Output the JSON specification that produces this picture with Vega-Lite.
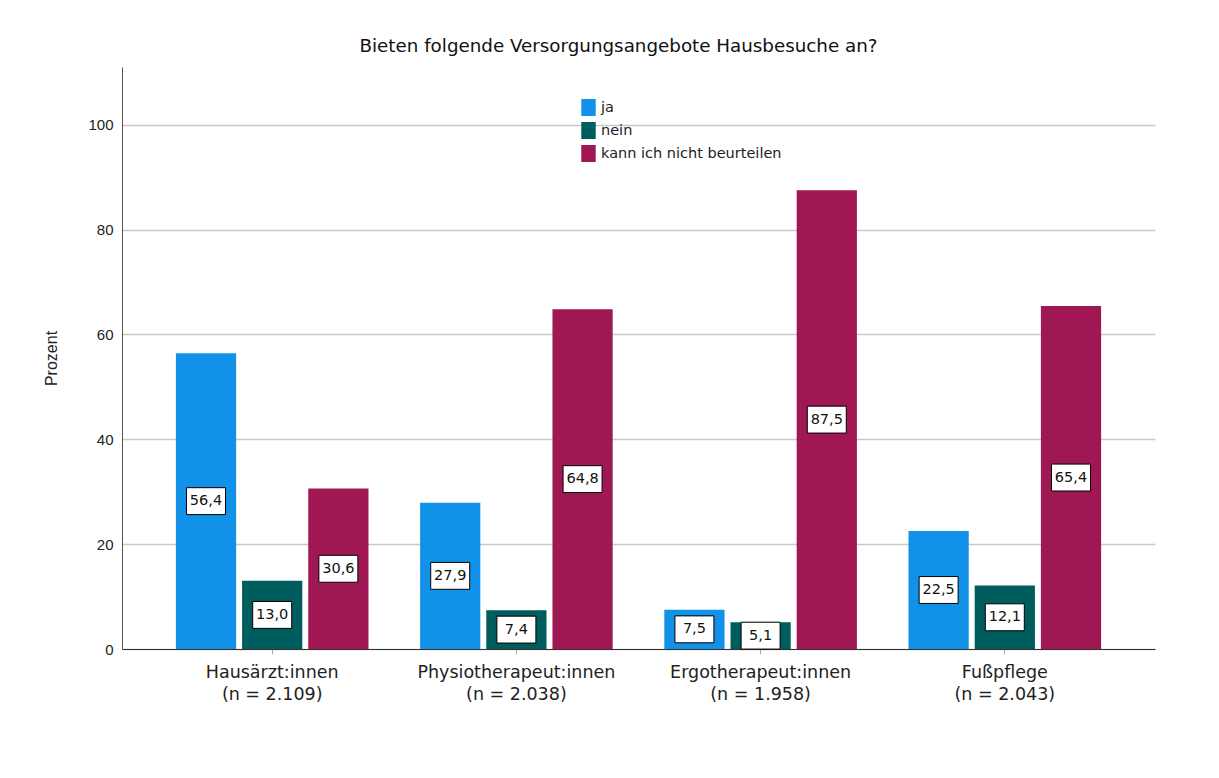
{
  "$schema": "https://vega.github.io/schema/vega-lite/v6.json",
  "width": 1033,
  "height": 582,
  "autosize": "none",
  "padding": {"left": 122, "top": 67, "right": 64, "bottom": 129},
  "background": "white",
  "title": {
    "text": "Bieten folgende Versorgungsangebote Hausbesuche an?",
    "font": "DejaVu Sans",
    "fontSize": 18.3,
    "fontWeight": "normal",
    "color": "#111111",
    "anchor": "middle",
    "dx": -20,
    "offset": 11
  },
  "data": {
    "values": [
      {"gruppe": "Hausärzt:innen|(n = 2.109)", "antwort": "ja", "value": 56.4},
      {"gruppe": "Hausärzt:innen|(n = 2.109)", "antwort": "nein", "value": 13.0},
      {"gruppe": "Hausärzt:innen|(n = 2.109)", "antwort": "kann ich nicht beurteilen", "value": 30.6},
      {"gruppe": "Physiotherapeut:innen|(n = 2.038)", "antwort": "ja", "value": 27.9},
      {"gruppe": "Physiotherapeut:innen|(n = 2.038)", "antwort": "nein", "value": 7.4},
      {"gruppe": "Physiotherapeut:innen|(n = 2.038)", "antwort": "kann ich nicht beurteilen", "value": 64.8},
      {"gruppe": "Ergotherapeut:innen|(n = 1.958)", "antwort": "ja", "value": 7.5},
      {"gruppe": "Ergotherapeut:innen|(n = 1.958)", "antwort": "nein", "value": 5.1},
      {"gruppe": "Ergotherapeut:innen|(n = 1.958)", "antwort": "kann ich nicht beurteilen", "value": 87.5},
      {"gruppe": "Fußpflege|(n = 2.043)", "antwort": "ja", "value": 22.5},
      {"gruppe": "Fußpflege|(n = 2.043)", "antwort": "nein", "value": 12.1},
      {"gruppe": "Fußpflege|(n = 2.043)", "antwort": "kann ich nicht beurteilen", "value": 65.4}
    ]
  },
  "transform": [
    {"calculate": "datum.value / 2", "as": "mid"},
    {"calculate": "replace(format(datum.value, '.1f'), '.', ',')", "as": "label"}
  ],
  "encoding": {
    "x": {
      "field": "gruppe",
      "type": "nominal",
      "sort": null,
      "scale": {"paddingInner": 0, "paddingOuter": 0.115},
      "axis": {
        "title": null,
        "labelAngle": 0,
        "labelExpr": "split(datum.label, '|')",
        "labelFont": "DejaVu Sans",
        "labelFontSize": 17.5,
        "labelColor": "#222222",
        "labelLineHeight": 22,
        "labelPadding": 9,
        "labelLimit": 0,
        "tickSize": 5,
        "tickColor": "#aaaaaa",
        "domainColor": "#333333",
        "grid": false
      }
    },
    "xOffset": {
      "field": "antwort",
      "type": "nominal",
      "sort": ["ja", "nein", "kann ich nicht beurteilen"],
      "scale": {"paddingInner": 0.09, "paddingOuter": 0.39}
    }
  },
  "layer": [
    {
      "mark": {"type": "bar"},
      "encoding": {
        "y": {
          "field": "value",
          "type": "quantitative",
          "scale": {"domain": [0, 111], "nice": false},
          "axis": {
            "title": "Prozent",
            "titleFont": "Liberation Sans",
            "titleFontSize": 16,
            "titleFontWeight": "normal",
            "titleColor": "#222222",
            "titlePadding": 28,
            "values": [0, 20, 40, 60, 80, 100],
            "labelFont": "Liberation Sans",
            "labelFontSize": 15,
            "labelColor": "#222222",
            "labelPadding": 9,
            "ticks": false,
            "grid": true,
            "gridColor": "#c8c8c8",
            "gridWidth": 1.3,
            "domainColor": "#555555"
          }
        },
        "color": {
          "field": "antwort",
          "type": "nominal",
          "sort": ["ja", "nein", "kann ich nicht beurteilen"],
          "scale": {
            "domain": ["ja", "nein", "kann ich nicht beurteilen"],
            "range": ["#1192e8", "#005d5d", "#9f1853"]
          },
          "legend": {
            "title": null,
            "orient": "none",
            "legendX": 458,
            "legendY": 32,
            "symbolType": "M-0.85,-1H0.85V1H-0.85Z",
            "symbolSize": 289,
            "symbolStrokeWidth": 0,
            "labelFont": "DejaVu Sans",
            "labelFontSize": 14.5,
            "labelColor": "#222222",
            "labelLimit": 0,
            "rowPadding": 6,
            "labelOffset": 4
          }
        }
      }
    },
    {
      "mark": {
        "type": "point",
        "shape": "M-1,-0.69H1V0.69H-1Z",
        "size": 1521,
        "filled": true,
        "fill": "white",
        "stroke": "black",
        "strokeWidth": 1,
        "opacity": 1
      },
      "encoding": {
        "y": {"field": "mid", "type": "quantitative"}
      }
    },
    {
      "mark": {
        "type": "text",
        "font": "DejaVu Sans",
        "fontSize": 14.5,
        "color": "#111111"
      },
      "encoding": {
        "y": {"field": "mid", "type": "quantitative"},
        "text": {"field": "label"}
      }
    }
  ],
  "config": {
    "view": {"stroke": null}
  }
}
